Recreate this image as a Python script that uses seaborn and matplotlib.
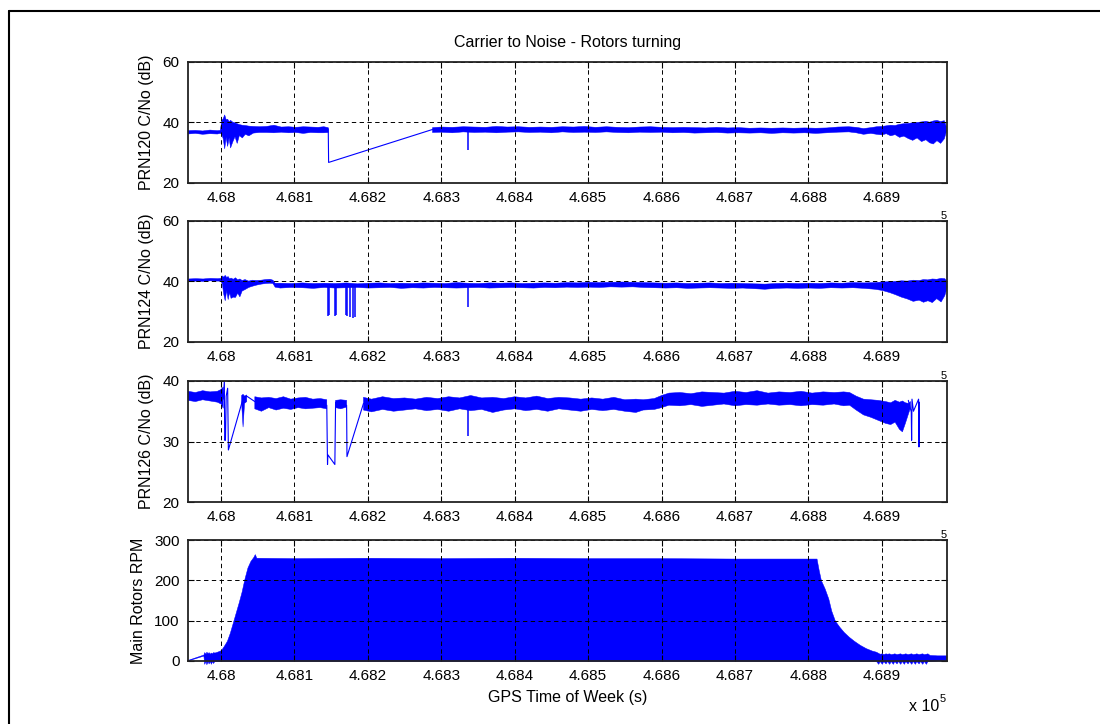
import numpy as np
import matplotlib
matplotlib.use("Agg")
import matplotlib.pyplot as plt
import seaborn as sns
from matplotlib.lines import Line2D
from matplotlib.ticker import FuncFormatter, FixedLocator

nan = np.nan

# ---------------- data ----------------
# GPS time of week (s); band = lower / upper edge of the dense noisy trace
prn120_t = [467955, 467965, 467975, 467985, 467995, 467999, 468001, 468003, 468005, 468007,
            468009, 468011, 468013, 468016, 468019, 468022, 468025, 468029, 468033, 468038,
            468044, 468052, 468062, 468072, 468082, 468092, 468102, 468112, 468122, 468132,
            468140, 468146, nan,
            468288, 468300, 468315, 468330, 468345, 468360, 468375, 468390, 468405, 468420,
            468435, 468450, 468465, 468480, 468495, 468510, 468525, 468540, 468555, 468570,
            468585, 468600, 468615, 468630, 468645, 468660, 468675, 468690, 468705, 468720,
            468735, 468750, 468765, 468780, 468795, 468810, 468825, 468840, 468855, 468865,
            468875, 468885, 468893, 468900, 468906, 468912, 468918, 468924, 468930, 468936,
            468942, 468948, 468954, 468960, 468965, 468970, 468975, 468980, 468985, 468988]
prn120_lo = [36.1, 36.3, 36.0, 36.2, 36.1, 36.3, 36.0, 34.5, 31.2, 35.0,
             32.0, 34.8, 31.5, 33.5, 35.2, 33.0, 35.6, 34.8, 36.0, 35.5,
             36.4, 36.6, 36.6, 36.5, 36.7, 36.5, 36.6, 36.3, 36.6, 36.5,
             36.5, 36.6, nan,
             36.6, 36.7, 36.5, 36.8, 36.6, 36.7, 36.5, 36.7, 36.8, 36.6,
             36.7, 36.5, 36.8, 36.6, 36.7, 36.6, 36.8, 36.6, 36.5, 36.7,
             36.6, 36.7, 36.5, 36.6, 36.4, 36.5, 36.6, 36.4, 36.5, 36.4,
             36.5, 36.3, 36.5, 36.4, 36.5, 36.3, 36.5, 36.7, 36.8, 36.5,
             36.0, 36.3, 36.0, 35.8, 36.2, 35.5, 35.9, 35.0, 35.4, 34.6,
             34.0, 34.8, 33.6, 34.2, 33.2, 32.8, 33.9, 33.0, 34.5, 37.0]
prn120_hi = [37.2, 37.3, 37.1, 37.4, 37.2, 37.3, 40.5, 41.2, 42.4, 40.8,
             41.0, 40.2, 40.6, 40.0, 39.8, 39.5, 39.2, 39.0, 38.9, 38.7,
             38.6, 38.5, 38.6, 39.0, 38.4, 38.5, 38.3, 38.5, 38.4, 38.3,
             38.5, 38.2, nan,
             38.2, 38.4, 38.3, 38.5, 38.4, 38.3, 38.6, 38.4, 38.5, 38.3,
             38.4, 38.3, 38.5, 38.4, 38.6, 38.3, 38.5, 38.3, 38.2, 38.4,
             38.5, 38.3, 38.2, 38.3, 38.2, 38.1, 38.3, 38.1, 38.2, 38.0,
             38.1, 38.0, 38.1, 38.0, 38.1, 38.0, 38.1, 38.4, 38.5, 38.3,
             37.9, 38.2, 38.5, 38.6, 38.8, 39.0, 38.9, 39.3, 39.5, 39.6,
             39.8, 39.9, 40.1, 40.3, 40.0, 40.4, 40.6, 40.2, 40.5, 38.4]
prn120_trace_t = [468146, 468146.5, 468288]
prn120_trace_v = [37.8, 26.7, 37.6]
prn120_spike_t = [468336]
prn120_spike_v = [30.8]

prn124_t = [467955, 467965, 467975, 467985, 467995, 467999, 468001, 468003, 468005, 468007,
            468009, 468011, 468013, 468016, 468019, 468022, 468025, 468028, 468032, 468037,
            468042, 468048, 468054, 468060, 468066, 468070, 468073,
            468080, 468095, 468110, 468125, 468140, 468155, 468170, 468185, 468200, 468215,
            468230, 468245, 468260, 468275, 468290, 468305, 468320, 468335, 468350, 468365,
            468380, 468395, 468410, 468425, 468440, 468455, 468470, 468485, 468500, 468515,
            468530, 468545, 468560, 468575, 468590, 468605, 468620, 468635, 468650, 468665,
            468680, 468695, 468710, 468725, 468740, 468755, 468770, 468785, 468800, 468815,
            468830, 468845, 468860, 468875,
            468890, 468900, 468910, 468918, 468926, 468934, 468942, 468950, 468956, 468962,
            468968, 468974, 468980, 468985, 468988]
prn124_lo = [40.2, 40.3, 40.2, 40.4, 40.3, 40.3, 39.5, 36.0, 33.8, 37.2,
             34.2, 36.5, 34.6, 35.0, 34.9, 36.3, 35.1, 37.0, 37.5, 38.2,
             38.6, 39.0, 39.3, 39.5, 39.6, 39.5, 38.3,
             38.0, 38.2, 38.1, 37.9, 38.2, 38.0, 38.1, 38.2, 38.0, 38.1,
             38.2, 37.9, 38.1, 38.0, 38.2, 38.1, 38.0, 38.1, 38.2, 38.0,
             38.1, 38.2, 38.1, 38.0, 38.2, 38.1, 38.3, 38.2, 38.3, 38.2,
             38.4, 38.3, 38.4, 38.2, 38.1, 38.0, 38.1, 37.9, 38.0, 38.1,
             38.0, 37.9, 38.0, 37.8, 37.6, 37.9, 38.0, 37.9, 38.0, 37.9,
             38.1, 38.0, 38.1, 37.9,
             37.6, 37.2, 36.5, 35.8, 35.0, 34.4, 33.6, 34.0, 33.3, 33.8,
             33.2, 34.5, 33.4, 35.5, 38.0]
prn124_hi = [41.0, 41.1, 41.0, 41.2, 41.1, 41.2, 42.0, 41.6, 42.2, 41.5,
             41.8, 41.0, 41.3, 40.9, 41.4, 40.7, 41.0, 40.5, 40.8, 40.3,
             40.6, 40.5, 40.6, 40.8, 40.9, 40.6, 39.6,
             39.6, 39.5, 39.7, 39.5, 39.6, 39.5, 39.7, 39.4, 39.6, 39.7,
             39.5, 39.6, 39.5, 39.7, 39.6, 39.5, 39.8, 39.6, 39.5, 39.7,
             39.6, 39.7, 39.5, 39.6, 39.7, 39.6, 39.8, 39.7, 39.9, 39.8,
             39.9, 40.0, 39.9, 39.8, 39.7, 39.6, 39.7, 39.5, 39.6, 39.7,
             39.5, 39.6, 39.5, 39.4, 39.3, 39.5, 39.6, 39.5, 39.6, 39.5,
             39.7, 39.6, 39.8, 39.7,
             39.8, 40.0, 40.1, 40.2, 40.4, 40.3, 40.6, 40.5, 40.8, 40.7,
             41.0, 40.9, 41.2, 41.1, 40.2]
prn124_spike_t = [468145, 468147, 468155, 468156, 468170, 468172, 468176, 468180, 468183, 468336]
prn124_spike_v = [28.7, 28.8, 28.7, 28.8, 28.9, 28.5, 28.2, 28.0, 28.4, 31.7]

prn126_t = [467955, 467965, 467975, 467985, 467995, 468000, 468003, nan,
            468028, 468030, 468032, 468035, nan,
            468046, 468055, 468065, 468075, 468085, 468095, 468105, 468115, 468125, 468135,
            468144, nan,
            468156, 468163, 468171, nan,
            468194, 468205, 468220, 468235, 468250, 468265, 468280, 468295, 468310, 468325,
            468340, 468355, 468370, 468385, 468400, 468415, 468430, 468445, 468460, 468475,
            468490, 468505, 468520, 468535, 468550, 468565, 468575, 468590, 468600, 468610,
            468625, 468640, 468655, 468670, 468685, 468700, 468715, 468730, 468745, 468760,
            468775, 468790, 468805, 468820, 468835, 468848, 468856, 468865, 468875, 468885,
            468895, 468905, 468912, 468918, 468924, 468928, 468932, 468936, 468939]
prn126_lo = [36.8, 36.6, 36.9, 36.7, 36.5, 36.2, 35.5, nan,
             36.4, 32.4, 36.3, 36.6, nan,
             35.4, 35.0, 35.6, 35.2, 35.5, 35.3, 35.6, 35.4, 35.5, 35.6,
             35.4, nan,
             35.6, 35.4, 35.7, nan,
             35.2, 34.9, 35.3, 35.0, 35.2, 35.4, 35.1, 35.3, 35.0, 35.4,
             35.1, 35.3, 34.8, 35.2, 35.4, 35.1, 35.3, 35.0, 35.4, 35.2,
             35.0, 35.3, 35.1, 35.3, 35.0, 34.8, 35.2, 35.3, 35.6, 36.0,
             35.9, 36.1, 35.8, 36.0, 36.2, 35.9, 36.1, 36.0, 36.2, 36.0,
             36.1, 35.9, 36.1, 36.0, 36.2, 35.9, 36.0, 35.2, 34.4, 34.0,
             33.5, 33.0, 32.8, 33.2, 32.0, 31.6, 33.0, 34.5, 35.6]
prn126_hi = [38.3, 38.1, 38.4, 38.2, 38.3, 38.6, 39.0, nan,
             37.6, 37.8, 37.5, 37.7, nan,
             37.4, 37.2, 37.3, 37.1, 37.4, 37.0, 37.2, 37.3, 37.0, 37.1,
             36.9, nan,
             36.8, 36.9, 36.8, nan,
             37.3, 37.0, 37.4, 37.1, 37.2, 37.0, 37.3, 37.1, 37.4, 37.2,
             37.6, 37.2, 37.3, 37.1, 37.4, 37.2, 37.5, 37.1, 37.3, 37.2,
             37.0, 37.2, 37.0, 37.3, 36.9, 37.0, 36.9, 37.1, 37.6, 38.0,
             38.1, 37.9, 38.2, 38.1, 38.0, 38.3, 38.1, 38.4, 38.0, 38.2,
             38.1, 38.3, 38.0, 38.2, 38.1, 38.2, 38.1, 37.5, 37.0, 36.9,
             36.8, 36.6, 36.4, 36.8, 36.5, 36.7, 36.4, 36.3, 36.6]
prn126_trace_t = [468003, 468004.5, 468005, 468006, 468007, 468009, 468010, 468030, 468035, 468046,
                  nan, 468144, 468145, 468145.5, 468155, 468156,
                  nan, 468171, 468171.5, 468194,
                  nan, 468936, 468940, 468940.5, 468941, 468943, 468950, 468950.5, 468951]
prn126_trace_v = [37.0, 40.0, 30.2, 30.2, 37.5, 38.8, 28.6, 37.1, 37.5, 36.6,
                  nan, 36.0, 26.2, 27.8, 26.2, 36.5,
                  nan, 36.0, 27.5, 36.3,
                  nan, 36.8, 34.9, 30.2, 37.0, 35.0, 37.0, 29.1, 36.5]
prn126_spike_t = [468336]
prn126_spike_v = [30.9]

rpm_t = [467955, 467976, 467977, 467979, 467980, 467982, 467983, 467985, 467986, 467988,
         467989, 467991, 467993, 467996, 468000, 468004, 468008, 468012, 468016, 468020,
         468024, 468028, 468032, 468036, 468040, 468044, 468046, 468048, 468100, 468200,
         468300, 468400, 468500, 468600, 468700, 468811, 468814, 468817, 468822, 468827,
         468831, 468836, 468842, 468848, 468855, 468862, 468870, 468878, 468886, 468892,
         468895, 468897, 468900, 468902, 468905, 468907, 468910, 468912, 468915, 468917,
         468920, 468922, 468925, 468927, 468930, 468932, 468935, 468937, 468940, 468942,
         468945, 468947, 468950, 468952, 468955, 468957, 468960, 468962, 468965, 468975,
         468988]
rpm_lo = [1.5, 13.5, -7, 0, -8, 0, -6, 0, -7, 0,
          -5, 0, 0, 0, 0, 0, 0, 0, 0, 0,
          0, 0, 0, 0, 0, 0, 0, 0, 0, 0,
          0, 0, 0, 0, 0, 0, 0, 0, 0, 0,
          0, 0, 0, 0, 0, 0, 0, 0, 0, 0,
          -7, 0, -7, 0, -6, 0, -7, 0, -7, 0,
          -6, 0, -7, 0, -7, 0, -6, 0, -7, 0,
          -7, 0, -6, 0, -7, 0, -7, 0, 0, 1,
          2]
rpm_hi = [3, 16, 22, 18, 23, 19, 22, 18, 21, 19,
          22, 21, 22, 24, 27, 38, 50, 70, 95, 120,
          145, 172, 205, 232, 248, 258, 265, 256, 255, 256,
          255, 256, 255, 255, 254, 254, 225, 200, 180, 155,
          125, 100, 85, 72, 60, 50, 40, 32, 26, 23,
          20, 18, 19, 17, 19, 18, 19, 17, 18, 19,
          17, 18, 19, 17, 18, 19, 17, 18, 19, 17,
          18, 19, 17, 18, 19, 17, 18, 19, 15, 14,
          14]

x_ticks = [468000, 468100, 468200, 468300, 468400, 468500, 468600, 468700, 468800, 468900]
x_lim = (467955, 468988)
ylabels = ["PRN120 C/No (dB)", "PRN124 C/No (dB)", "PRN126 C/No (dB)", "Main Rotors RPM"]
yticks = [[20, 40, 60], [20, 40, 60], [20, 30, 40], [0, 100, 200, 300]]
title = "Carrier to Noise - Rotors turning"
xlabel = "GPS Time of Week (s)"

# ---------------- styling ----------------
sns.set_theme(style="white")
plt.rcParams["font.family"] = ["Liberation Sans", "DejaVu Sans"]
BLUE = "#0000ff"

W, H = 1100, 724
fig = plt.figure(figsize=(11, 7.24), dpi=100)
fig.patch.set_facecolor("white")

left, right = 188, 946.5
tops = [61.7, 221, 381, 540]
height = 121

axes = []
for top in tops:
    ax = fig.add_axes([left / W, 1 - (top + height) / H, (right - left) / W, height / H])
    axes.append(ax)


def seg_lines(ax, t, v, lw=0.8):
    t = np.asarray(t, float)
    v = np.asarray(v, float)
    mask = ~np.isnan(t)
    idx = np.flatnonzero(np.diff(np.concatenate([[0], mask.astype(int), [0]])))
    for s, e in zip(idx[::2], idx[1::2]):
        sns.lineplot(x=t[s:e], y=v[s:e], ax=ax, color=BLUE, lw=lw, sort=False,
                     estimator=None, legend=False)


def band(ax, t, lo, hi, clip=True):
    ax.fill_between(np.asarray(t, float), np.asarray(lo, float), np.asarray(hi, float),
                    color=BLUE, lw=0.35, edgecolor=BLUE, clip_on=clip, zorder=2)


def spikes(ax, t, v, base):
    ax.vlines(t, v, base, color=BLUE, lw=1.1, zorder=2)


band(axes[0], prn120_t, prn120_lo, prn120_hi)
seg_lines(axes[0], prn120_trace_t, prn120_trace_v)
spikes(axes[0], prn120_spike_t, prn120_spike_v, 37.3)

band(axes[1], prn124_t, prn124_lo, prn124_hi)
spikes(axes[1], prn124_spike_t, prn124_spike_v, 38.6)

band(axes[2], prn126_t, prn126_lo, prn126_hi)
seg_lines(axes[2], prn126_trace_t, prn126_trace_v)
spikes(axes[2], prn126_spike_t, prn126_spike_v, 36.2)

band(axes[3], rpm_t, rpm_lo, rpm_hi, clip=False)

fmt = FuncFormatter(lambda v, p: f"{v / 1e5:g}")
for i, ax in enumerate(axes):
    ax.set_xlim(*x_lim)
    ax.set_ylim(yticks[i][0], yticks[i][-1])
    ax.xaxis.set_major_locator(FixedLocator(x_ticks))
    ax.xaxis.set_major_formatter(fmt)
    ax.set_yticks(yticks[i])
    ax.set_facecolor("white")
    ax.grid(True, color="black", linestyle=(0, (4.5, 3.5)), linewidth=0.7)
    ax.set_axisbelow(False)
    for sp in ax.spines.values():
        sp.set_visible(True)
        sp.set_color("#222222")
        sp.set_linewidth(1.3)
        sp.set_zorder(3)
    ax.tick_params(axis="both", which="major", direction="in", length=4, width=0.8,
                   top=True, right=True, bottom=True, left=True, labelsize=11,
                   colors="black", pad=6)
    ax.set_ylabel(ylabels[i], fontsize=11.5, labelpad=6, color="black")
    ax.set_xlabel("")
    if i > 0:
        ax.text(1.0, 1.0, "5", transform=ax.transAxes, ha="right", va="bottom",
                fontsize=8, color="black")

axes[3].set_xlabel(xlabel, fontsize=11.5, labelpad=5, color="black")

fig.text((left + right) / 2 / W, 1 - 43 / H, title, ha="center", va="center",
         fontsize=11.5, color="black")
fig.text(939 / W, 1 - 711 / H, "x 10", ha="right", va="baseline", fontsize=11.5, color="black")
fig.text(940 / W, 1 - 702 / H, "5", ha="left", va="baseline", fontsize=8, color="black")

# outer frame (top and left edges visible in the reference)
fig.add_artist(Line2D([8.5 / W, 1.02], [1 - 10.5 / H, 1 - 10.5 / H], color="black", lw=1.5))
fig.add_artist(Line2D([8.5 / W, 8.5 / W], [-0.02, 1 - 10.5 / H], color="black", lw=1.5))

fig.savefig("out.png", dpi=100, facecolor="white")
